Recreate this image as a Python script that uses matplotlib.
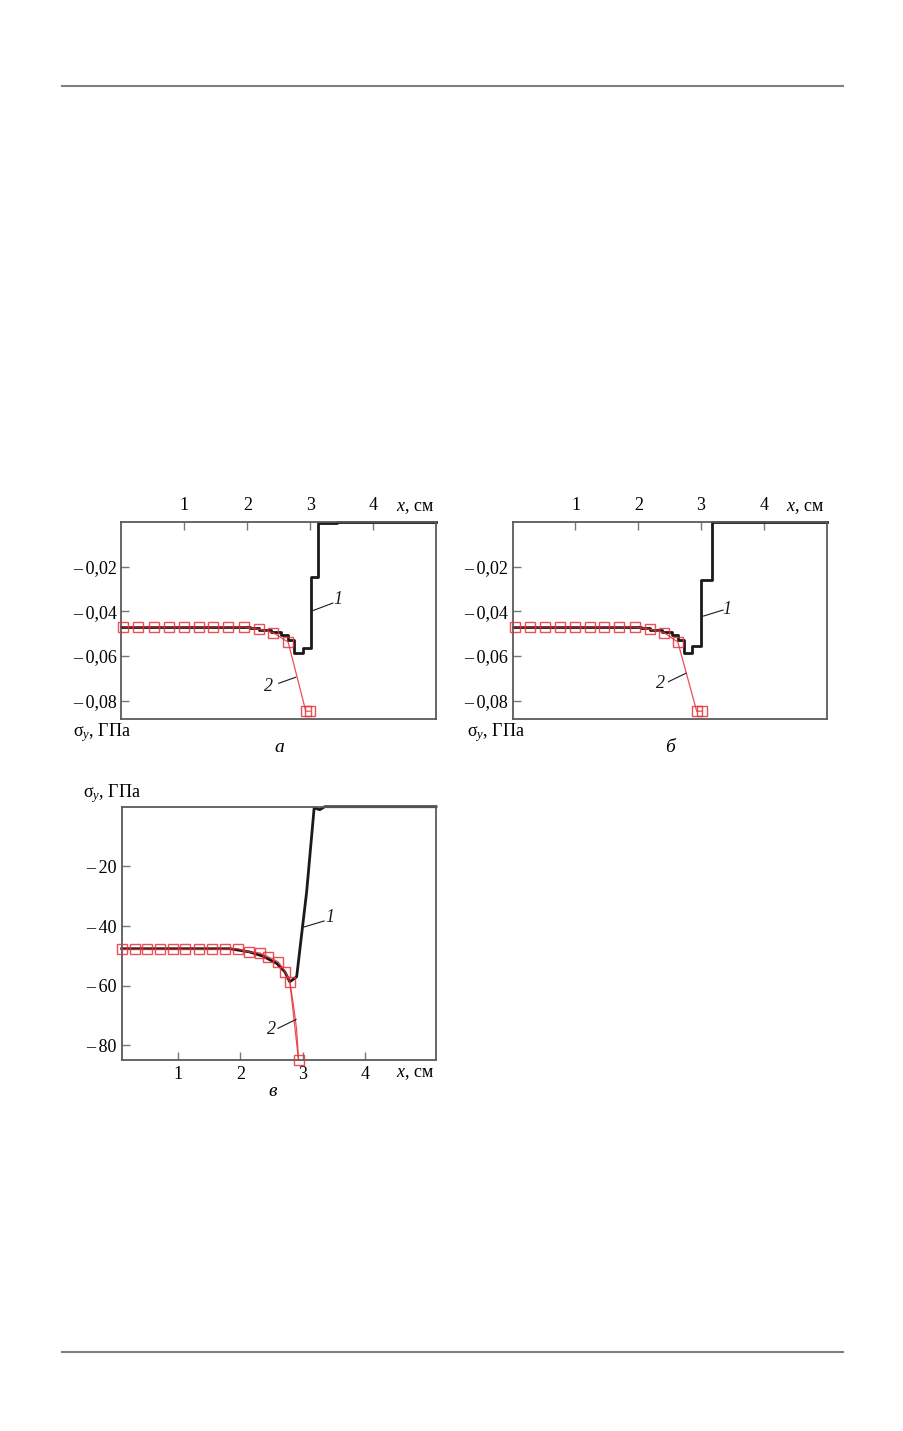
import matplotlib
matplotlib.use("Agg")
import matplotlib.pyplot as plt
from matplotlib.ticker import FixedLocator, FuncFormatter

plt.rcParams['font.family'] = ['Liberation Serif', 'DejaVu Serif']
plt.rcParams['mathtext.fontset'] = 'custom'
plt.rcParams['mathtext.rm'] = 'Liberation Serif'
plt.rcParams['mathtext.it'] = 'Liberation Serif:italic'

# ---------------- data ----------------
# panel a: curve 1 (step), curve 2 (squares)
a_x1 = [0.0, 2.05, 2.19, 2.38, 2.53, 2.64, 2.74, 2.88, 3.01, 3.12, 3.43, 5.0]
a_y1 = [-0.0470, -0.0476, -0.0484, -0.0494, -0.0508, -0.0530, -0.0586, -0.0566, -0.0245, -0.0003, 0.0, 0.0]
a_x2 = [0.03, 0.27, 0.51, 0.75, 0.99, 1.23, 1.46, 1.70, 1.94, 2.18, 2.41, 2.65, 2.93, 3.00]
a_y2 = [-0.0470, -0.0470, -0.0470, -0.0470, -0.0470, -0.0470, -0.0470, -0.0470, -0.0470,
        -0.0480, -0.0495, -0.0538, -0.0847, -0.0847]

# panel б
b_x1 = [0.0, 2.05, 2.19, 2.38, 2.53, 2.64, 2.72, 2.855, 3.0, 3.17, 5.0]
b_y1 = [-0.0470, -0.0476, -0.0484, -0.0494, -0.0508, -0.0530, -0.0586, -0.0557, -0.0260, 0.0, 0.0]
b_x2 = [0.03, 0.27, 0.51, 0.75, 0.99, 1.23, 1.46, 1.70, 1.94, 2.18, 2.41, 2.63, 2.93, 3.01]
b_y2 = [-0.0470, -0.0470, -0.0470, -0.0470, -0.0470, -0.0470, -0.0470, -0.0470, -0.0470,
        -0.0480, -0.0495, -0.0538, -0.0847, -0.0847]

# panel в
c_x1 = [0.10, 1.83, 2.15, 2.36, 2.58, 2.71, 2.79, 2.90, 3.06, 3.18, 3.27, 3.35, 5.13]
c_y1 = [-47.6, -47.6, -48.7, -50.1, -52.5, -55.3, -58.7, -57.0, -28.5, -0.4, -1.0, 0.0, 0.0]
c_x2 = [0.10, 0.305, 0.508, 0.717, 0.92, 1.12, 1.33, 1.54, 1.75, 1.96, 2.135, 2.31, 2.445,
        2.605, 2.72, 2.79, 2.93]
c_y2 = [-47.8, -47.8, -47.8, -47.8, -47.8, -47.8, -47.8, -47.8, -47.8, -47.6, -48.7, -49.0,
        -50.3, -52.0, -55.3, -58.7, -84.9]
# line-only trace of curve 2 between the last two squares
c_x2line = [2.79, 2.82, 2.86, 2.90, 2.92, 2.93]
c_y2line = [-58.7, -62.6, -68.2, -74.8, -81.5, -84.9]

x_ticks = [1, 2, 3, 4]
ab_yticks = [-0.08, -0.06, -0.04, -0.02]
c_yticks = [-80, -60, -40, -20]

# ---------------- styling ----------------
W, H = 904, 1431
fig = plt.figure(figsize=(W / 100, H / 100), dpi=100)
BLACK = '#1a1a1a'
RED = '#e8303a'
SPINE = '#5a5a5a'
FS = 13


def px(x, y):
    return x / W, 1 - y / H


def add_axes(l, t, r, b):
    return fig.add_axes([l / W, 1 - b / H, (r - l) / W, (b - t) / H])


def style(ax, top):
    for s in ax.spines.values():
        s.set_color(SPINE)
        s.set_linewidth(1.3)
    ax.tick_params(axis='both', direction='in', color='#777777', width=1.0,
                   length=6, labelsize=FS)
    ax.tick_params(axis='y', pad=3.5)
    if top:
        ax.xaxis.tick_top()
        ax.tick_params(axis='x', pad=5.5)
    else:
        ax.tick_params(axis='x', pad=4)
    ax.xaxis.set_major_locator(FixedLocator(x_ticks))


def yfmt_small(v, pos):
    return '\u2013\u2009' + ('%.2f' % abs(v)).replace('.', ',')


def yfmt_big(v, pos):
    return '\u2013\u2009' + '%d' % abs(v)


def sqs(ax, x, y, ms):
    ax.plot(x, y, color=RED, lw=0.9, marker='s', markersize=ms,
            markerfacecolor='none', markeredgecolor=RED, markeredgewidth=1.0,
            alpha=0.85, zorder=3, clip_on=False)


def note(ax, label, tx, ty, lx0, ly0, lx1, ly1):
    ax.plot([lx0, lx1], [ly0, ly1], color=BLACK, lw=0.8, zorder=4, clip_on=False)
    ax.text(tx, ty, label, fontsize=FS, fontstyle='italic', ha='center', va='center',
            color=BLACK)


# panel a
ax_a = add_axes(121.5, 522, 436, 719)
ax_a.plot(a_x1, a_y1, drawstyle='steps-post', color=BLACK, lw=2.0, zorder=2, clip_on=False)
sqs(ax_a, a_x2, a_y2, 7)
ax_a.set_xlim(0, 5.0)
ax_a.set_ylim(-0.0882, 0)
style(ax_a, True)
ax_a.yaxis.set_major_locator(FixedLocator(ab_yticks))
ax_a.yaxis.set_major_formatter(FuncFormatter(yfmt_small))
note(ax_a, '1', 3.435, -0.0349, 3.04, -0.0397, 3.36, -0.0363)
note(ax_a, '2', 2.33, -0.0737, 2.50, -0.0722, 2.77, -0.0695)

# panel б
ax_b = add_axes(512.7, 522, 826.7, 719)
ax_b.plot(b_x1, b_y1, drawstyle='steps-post', color=BLACK, lw=2.0, zorder=2, clip_on=False)
sqs(ax_b, b_x2, b_y2, 7)
ax_b.set_xlim(0, 5.0)
ax_b.set_ylim(-0.0882, 0)
style(ax_b, True)
ax_b.yaxis.set_major_locator(FixedLocator(ab_yticks))
ax_b.yaxis.set_major_formatter(FuncFormatter(yfmt_small))
note(ax_b, '1', 3.41, -0.0390, 3.04, -0.0421, 3.35, -0.0394)
note(ax_b, '2', 2.35, -0.0725, 2.48, -0.0715, 2.76, -0.0677)

# panel в
ax_c = add_axes(121.7, 806.7, 436, 1060)
ax_c.plot(c_x1, c_y1, color=BLACK, lw=2.0, zorder=2, clip_on=False)
ax_c.plot(c_x2line, c_y2line, color=RED, lw=0.9, alpha=0.85, zorder=3)
sqs(ax_c, c_x2, c_y2, 7.5)
ax_c.set_xlim(0.1, 5.13)
ax_c.set_ylim(-84.9, 0)
style(ax_c, False)
ax_c.yaxis.set_major_locator(FixedLocator(c_yticks))
ax_c.yaxis.set_major_formatter(FuncFormatter(yfmt_big))
note(ax_c, '1', 3.435, -37.0, 3.02, -40.3, 3.34, -38.3)
note(ax_c, '2', 2.50, -74.8, 2.60, -74.3, 2.89, -71.3)

for a in (ax_a, ax_b, ax_c):
    a.xaxis.set_major_formatter(FuncFormatter(lambda v, p: '%d' % v))

# axis titles and captions
sig = 'σ$_{y}$, ГПа'
xl = '$x$, см'
fig.text(*px(434, 507), xl, fontsize=FS, ha='right', va='center')
fig.text(*px(824, 507), xl, fontsize=FS, ha='right', va='center')
fig.text(*px(434, 1074), xl, fontsize=FS, ha='right', va='center')
fig.text(*px(73, 733), sig, fontsize=FS, ha='left', va='center')
fig.text(*px(467, 733), sig, fontsize=FS, ha='left', va='center')
fig.text(*px(83, 794), sig, fontsize=FS, ha='left', va='center')
fig.text(*px(279, 747), 'а', fontsize=FS + 1, fontstyle='italic', ha='center', va='center')
fig.text(*px(670, 747), 'б', fontsize=FS + 1, fontstyle='italic', ha='center', va='center')
fig.text(*px(273, 1092), 'в', fontsize=FS + 1, fontstyle='italic', ha='center', va='center')

# page rules
for yy in (86, 1352):
    fig.add_artist(plt.Line2D([62 / W, 843 / W], [1 - yy / H, 1 - yy / H],
                              color='#808080', lw=1.5))

fig.savefig('out.png', dpi=100)
